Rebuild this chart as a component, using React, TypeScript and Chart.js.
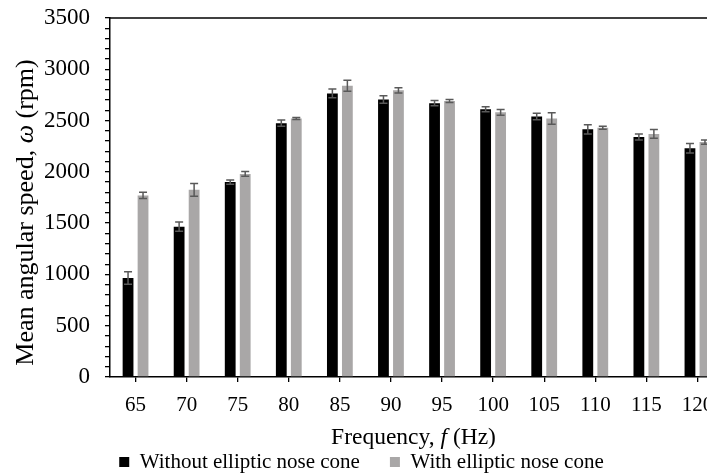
import React, { useEffect, useRef } from 'react';
import { Chart, registerables } from 'chart.js';

Chart.register(...registerables);

const categories = ['65', '70', '75', '80', '85', '90', '95', '100', '105', '110', '115', '120'];
const withoutCone = [965, 1465, 1900, 2475, 2765, 2705, 2670, 2610, 2540, 2415, 2340, 2230];
const withCone = [1770, 1825, 1980, 2520, 2840, 2795, 2690, 2580, 2520, 2430, 2370, 2290];
const withoutErr = [60, 45, 20, 30, 42, 36, 25, 24, 32, 45, 30, 47];
const withErr = [30, 62, 23, 10, 54, 26, 15, 28, 56, 15, 42, 20];
const seriesNames = ['Without elliptic nose cone', 'With elliptic nose cone'];
const yMin = 0;
const yMax = 3500;
const yMajorStep = 500;
const yMinorStep = 100;
const xTitleParts = [
  { text: 'Frequency, ', italic: false },
  { text: 'f', italic: true },
  { text: ' (Hz)', italic: false },
];
const yTitleParts = [
  { text: 'Mean angular speed, ', italic: false },
  { text: 'ω', italic: true },
  { text: ' (rpm)', italic: false },
];

const FONT = "'Liberation Serif', 'Times New Roman', serif";

function drawMixed(
  ctx: CanvasRenderingContext2D,
  parts: { text: string; italic: boolean }[],
  cx: number,
  cy: number,
  size: number
) {
  const fontOf = (it: boolean) => `${it ? 'italic ' : ''}${size}px ${FONT}`;
  let total = 0;
  const widths = parts.map((p) => {
    ctx.font = fontOf(p.italic);
    const w = ctx.measureText(p.text).width;
    total += w;
    return w;
  });
  let x = cx - total / 2;
  ctx.textAlign = 'left';
  ctx.textBaseline = 'middle';
  parts.forEach((p, i) => {
    ctx.font = fontOf(p.italic);
    ctx.fillText(p.text, x, cy);
    x += widths[i];
  });
}

const errorBarsPlugin = {
  id: 'errorBars',
  afterDatasetsDraw(chart: any) {
    const ctx = chart.ctx as CanvasRenderingContext2D;
    const yScale = chart.scales.y;
    const errs = [withoutErr, withErr];
    chart.data.datasets.forEach((ds: any, di: number) => {
      const meta = chart.getDatasetMeta(di);
      meta.data.forEach((el: any, i: number) => {
        const v = ds.data[i] as number;
        const e = errs[di][i];
        const yt = yScale.getPixelForValue(v + e);
        const yb = yScale.getPixelForValue(v - e);
        ctx.save();
        ctx.strokeStyle = '#595959';
        ctx.lineWidth = 1.5;
        ctx.beginPath();
        ctx.moveTo(el.x, yt);
        ctx.lineTo(el.x, yb);
        ctx.moveTo(el.x - 4, yt);
        ctx.lineTo(el.x + 4, yt);
        ctx.moveTo(el.x - 4, yb);
        ctx.lineTo(el.x + 4, yb);
        ctx.stroke();
        ctx.restore();
      });
    });
  },
};

const titlesPlugin = {
  id: 'axisTitles',
  afterDraw(chart: any) {
    const ctx = chart.ctx as CanvasRenderingContext2D;
    const { left, right, top, bottom } = chart.chartArea;
    ctx.save();
    ctx.fillStyle = '#000';
    // top border of the plot frame
    ctx.strokeStyle = '#000';
    ctx.lineWidth = 1.5;
    ctx.beginPath();
    ctx.moveTo(left, top);
    ctx.lineTo(right, top);
    ctx.stroke();
    // x title
    drawMixed(ctx, xTitleParts, (left + right) / 2 - 3, bottom + 61, 23.5);
    // y title
    ctx.translate(26, (top + bottom) / 2 + 15);
    ctx.rotate(-Math.PI / 2);
    drawMixed(ctx, yTitleParts, 0, 0, 26);
    ctx.restore();
  },
};

export default function App() {
  const ref = useRef<HTMLCanvasElement | null>(null);

  useEffect(() => {
    if (!ref.current) return;
    const chart = new Chart(ref.current, {
      type: 'bar',
      data: {
        labels: categories,
        datasets: [
          {
            label: seriesNames[0],
            data: withoutCone,
            backgroundColor: '#000000',
            borderWidth: 0,
            categoryPercentage: 0.587,
            barPercentage: 0.72,
          },
          {
            label: seriesNames[1],
            data: withCone,
            backgroundColor: '#a9a7a7',
            borderWidth: 0,
            categoryPercentage: 0.587,
            barPercentage: 0.72,
          },
        ],
      },
      options: {
        responsive: false,
        animation: false,
        layout: { padding: { top: 18, left: 0, right: 10, bottom: -7.5 } },
        plugins: {
          tooltip: { enabled: false },
          legend: {
            position: 'bottom',
            labels: {
              boxWidth: 10,
              boxHeight: 10,
              padding: 30,
              color: '#000',
              font: { family: FONT, size: 21 },
            },
          },
        },
        scales: {
          x: {
            grid: {
              display: true,
              drawOnChartArea: false,
              drawTicks: true,
              tickLength: 5,
              offset: false,
              color: '#000',
              lineWidth: 1.3,
            },
            border: { display: true, color: '#000', width: 1.5 },
            ticks: {
              color: '#000',
              padding: 11,
              font: { family: FONT, size: 21 },
              maxRotation: 0,
              autoSkip: false,
            },
            afterFit: (scale: any) => {
              scale.height = 44.5;
            },
          },
          y: {
            min: yMin,
            max: yMax,
            grid: {
              display: true,
              drawOnChartArea: false,
              drawTicks: true,
              tickLength: 5,
              color: '#000',
              lineWidth: 1.3,
            },
            border: { display: true, color: '#000', width: 1.5 },
            ticks: {
              stepSize: yMinorStep,
              maxTicksLimit: 100,
              autoSkip: false,
              color: '#000',
              padding: 15,
              font: { family: FONT, size: 23 },
              callback: (v: any) => (Number(v) % yMajorStep === 0 ? String(v) : ''),
            },
            afterFit: (scale: any) => {
              scale.width = 110;
              scale.paddingTop = 0;
              scale.paddingBottom = 0;
            },
          },
        },
      },
      plugins: [errorBarsPlugin, titlesPlugin],
    });
    return () => chart.destroy();
  }, []);

  return (
    <div style={{ position: 'fixed', left: 0, top: 0, width: 707, height: 475, overflow: 'hidden', background: '#fff' }}>
      <canvas ref={ref} width={733} height={475} style={{ display: 'block' }} />
    </div>
  );
}
